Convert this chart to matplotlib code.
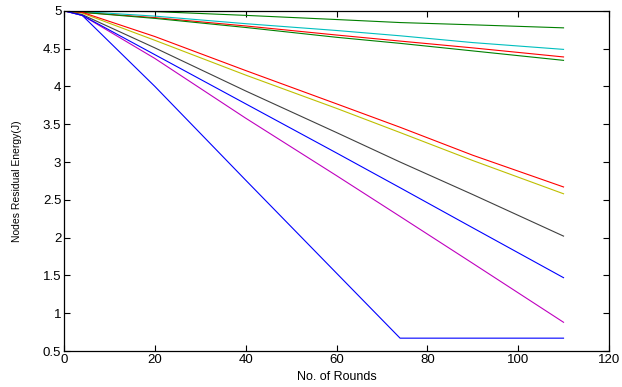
import matplotlib
matplotlib.use("Agg")
import matplotlib.pyplot as plt
from matplotlib.ticker import FormatStrFormatter

plt.rcParams['font.family'] = ['Liberation Sans', 'DejaVu Sans']

rounds = [0, 4, 20, 40, 60, 74, 90, 110]

# residual energy (J) of each node, MATLAB colour order
energy_blue_fast = [5.0, 4.94, 4.00, 2.76, 1.53, 0.67, 0.67, 0.67]
energy_green_top = [5.0, 5.0, 4.99, 4.94, 4.885, 4.845, 4.815, 4.775]
energy_red_top = [5.0, 4.98, 4.91, 4.80, 4.68, 4.60, 4.51, 4.39]
energy_cyan = [5.0, 4.99, 4.93, 4.83, 4.74, 4.67, 4.58, 4.49]
energy_magenta = [5.0, 4.94, 4.37, 3.58, 2.82, 2.28, 1.66, 0.88]
energy_yellow = [5.0, 4.97, 4.61, 4.15, 3.71, 3.39, 3.02, 2.58]
energy_gray = [5.0, 4.95, 4.51, 3.94, 3.39, 3.00, 2.57, 2.02]
energy_blue_slow = [5.0, 4.94, 4.42, 3.77, 3.12, 2.66, 2.13, 1.47]
energy_green_low = [5.0, 4.98, 4.90, 4.78, 4.65, 4.57, 4.47, 4.345]
energy_red_low = [5.0, 4.98, 4.66, 4.21, 3.77, 3.46, 3.09, 2.67]

series = [
    (energy_blue_fast, (0, 0, 1)),
    (energy_green_top, (0, 0.5, 0)),
    (energy_red_top, (1, 0, 0)),
    (energy_cyan, (0, 0.75, 0.75)),
    (energy_magenta, (0.75, 0, 0.75)),
    (energy_yellow, (0.75, 0.75, 0)),
    (energy_gray, (0.25, 0.25, 0.25)),
    (energy_blue_slow, (0, 0, 1)),
    (energy_green_low, (0, 0.5, 0)),
    (energy_red_low, (1, 0, 0)),
]

fig = plt.figure(figsize=(6.22, 3.87), dpi=100, facecolor='white')
ax = fig.add_axes([0.103, 0.093, 0.876, 0.879])

for values, col in series:
    ax.plot(rounds, values, color=col, linewidth=0.8)

ax.set_xlim(0, 120)
ax.set_ylim(0.5, 5)
ax.set_xticks(range(0, 121, 20))
ax.set_yticks([0.5 * i for i in range(1, 11)])
ax.yaxis.set_major_formatter(FormatStrFormatter('%g'))
ax.tick_params(direction='in', top=True, right=True, labelsize=9.5, length=4, width=0.8, pad=2)
for sp in ax.spines.values():
    sp.set_linewidth(0.9)

ax.set_xlabel("No. of Rounds", fontsize=9, labelpad=4)
ax.set_ylabel("Nodes Residual Energy(J)", fontsize=7.5, labelpad=15)

fig.savefig("out.png", dpi=100, facecolor='white')
